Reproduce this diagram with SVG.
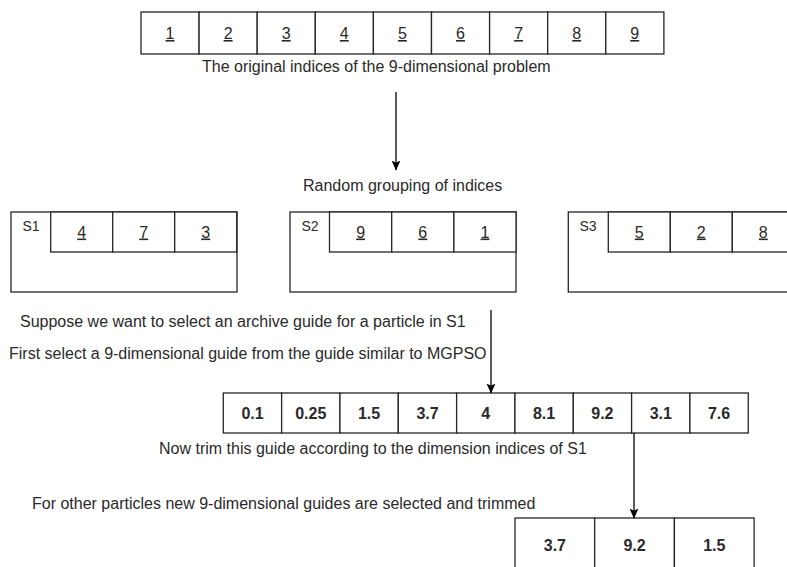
<svg xmlns="http://www.w3.org/2000/svg" width="787" height="567" viewBox="0 0 787 567">
<defs>
<style>
.c{fill:#fff;stroke:#262626;stroke-width:1.3}
.l{fill:none;stroke:#262626;stroke-width:1.3}
.t{font-family:"Liberation Sans",Arial,sans-serif;font-size:16px;fill:#2a2a2a}
.u{text-decoration:underline;text-anchor:middle}
.b{font-weight:bold;text-anchor:middle}
.s{font-size:14px;text-anchor:middle}
.a{fill:none;stroke:#000;stroke-width:1.3;marker-end:url(#ah)}
</style>
<marker id="ah" viewBox="0 0 10 10" refX="9.5" refY="5" markerWidth="10" markerHeight="10" markerUnits="userSpaceOnUse" orient="auto">
<path d="M0,0.5 L10,5 L0,9.5 L2.2,5 Z" fill="#000"/>
</marker>
</defs>
<rect width="787" height="567" fill="#fff"/>

<g id="original-indices">
<rect class="c" x="141" y="12" width="58.1" height="42"/>
<rect class="c" x="199.1" y="12" width="58.1" height="42"/>
<rect class="c" x="257.2" y="12" width="58.1" height="42"/>
<rect class="c" x="315.3" y="12" width="58.1" height="42"/>
<rect class="c" x="373.4" y="12" width="58.1" height="42"/>
<rect class="c" x="431.5" y="12" width="58.1" height="42"/>
<rect class="c" x="489.6" y="12" width="58.1" height="42"/>
<rect class="c" x="547.7" y="12" width="58.1" height="42"/>
<rect class="c" x="605.8" y="12" width="58.1" height="42"/>
<text class="t u" x="170" y="39">1</text>
<text class="t u" x="228.1" y="39">2</text>
<text class="t u" x="286.2" y="39">3</text>
<text class="t u" x="344.3" y="39">4</text>
<text class="t u" x="402.4" y="39">5</text>
<text class="t u" x="460.5" y="39">6</text>
<text class="t u" x="518.6" y="39">7</text>
<text class="t u" x="576.7" y="39">8</text>
<text class="t u" x="634.8" y="39">9</text>
</g>
<g id="caption-original">
<text class="t" x="202" y="72">The original indices of the 9-dimensional problem</text>
</g>
<g id="caption-random">
<text class="t" x="303" y="191">Random grouping of indices</text>
</g>

<g id="S1">
<rect class="c" x="11" y="212" width="226" height="80"/>
<rect class="c" x="50.7" y="212" width="62" height="40"/>
<rect class="c" x="112.7" y="212" width="62" height="40"/>
<rect class="c" x="174.7" y="212" width="62" height="40"/>
<text class="t s" x="31" y="231">S1</text>
<text class="t u" x="81.7" y="237.5">4</text>
<text class="t u" x="143.7" y="237.5">7</text>
<text class="t u" x="205.7" y="237.5">3</text>
</g>
<g id="S2">
<rect class="c" x="290" y="212" width="226" height="80"/>
<rect class="c" x="329.5" y="212" width="62.2" height="40"/>
<rect class="c" x="391.7" y="212" width="62.2" height="40"/>
<rect class="c" x="453.9" y="212" width="62.1" height="40"/>
<text class="t s" x="310" y="231">S2</text>
<text class="t u" x="360.6" y="237.5">9</text>
<text class="t u" x="422.8" y="237.5">6</text>
<text class="t u" x="485" y="237.5">1</text>
</g>
<g id="S3">
<rect class="c" x="568.3" y="212" width="226" height="80"/>
<rect class="c" x="608.3" y="212" width="62" height="40"/>
<rect class="c" x="670.3" y="212" width="62" height="40"/>
<rect class="c" x="732.3" y="212" width="62" height="40"/>
<text class="t s" x="588" y="231">S3</text>
<text class="t u" x="639.3" y="237.5">5</text>
<text class="t u" x="701.3" y="237.5">2</text>
<text class="t u" x="763.3" y="237.5">8</text>
</g>

<g id="caption-suppose">
<text class="t" x="20" y="327">Suppose we want to select an archive guide for a particle in S1</text>
</g>
<g id="caption-first">
<text class="t" x="9" y="359">First select a 9-dimensional guide from the guide similar to MGPSO</text>
</g>

<g id="guide">
<rect class="c" x="223.3" y="393" width="58.33" height="40"/>
<rect class="c" x="281.63" y="393" width="58.33" height="40"/>
<rect class="c" x="339.96" y="393" width="58.33" height="40"/>
<rect class="c" x="398.29" y="393" width="58.33" height="40"/>
<rect class="c" x="456.62" y="393" width="58.33" height="40"/>
<rect class="c" x="514.95" y="393" width="58.33" height="40"/>
<rect class="c" x="573.28" y="393" width="58.33" height="40"/>
<rect class="c" x="631.61" y="393" width="58.33" height="40"/>
<rect class="c" x="689.94" y="393" width="58.33" height="40"/>
<text class="t b" x="252.5" y="418.5">0.1</text>
<text class="t b" x="310.8" y="418.5">0.25</text>
<text class="t b" x="369.1" y="418.5">1.5</text>
<text class="t b" x="427.5" y="418.5">3.7</text>
<text class="t b" x="485.8" y="418.5">4</text>
<text class="t b" x="544.1" y="418.5">8.1</text>
<text class="t b" x="602.4" y="418.5">9.2</text>
<text class="t b" x="660.8" y="418.5">3.1</text>
<text class="t b" x="719.1" y="418.5">7.6</text>
</g>
<g id="caption-trim">
<text class="t" x="159" y="454">Now trim this guide according to the dimension indices of S1</text>
</g>
<g id="caption-other">
<text class="t" x="32" y="509">For other particles new 9-dimensional guides are selected and trimmed</text>
</g>

<g id="trimmed">
<rect class="c" x="515" y="518" width="79.7" height="60"/>
<rect class="c" x="594.7" y="518" width="79.7" height="60"/>
<rect class="c" x="674.4" y="518" width="79.7" height="60"/>
<text class="t b" x="554.9" y="551">3.7</text>
<text class="t b" x="634.6" y="551">9.2</text>
<text class="t b" x="714.3" y="551">1.5</text>
</g>

<g id="connectors">
<path class="a" d="M396,92 L396,170"/>
<path class="a" d="M491,310 L491,393"/>
<path class="a" d="M634,433 L634,518"/>
</g>
</svg>
